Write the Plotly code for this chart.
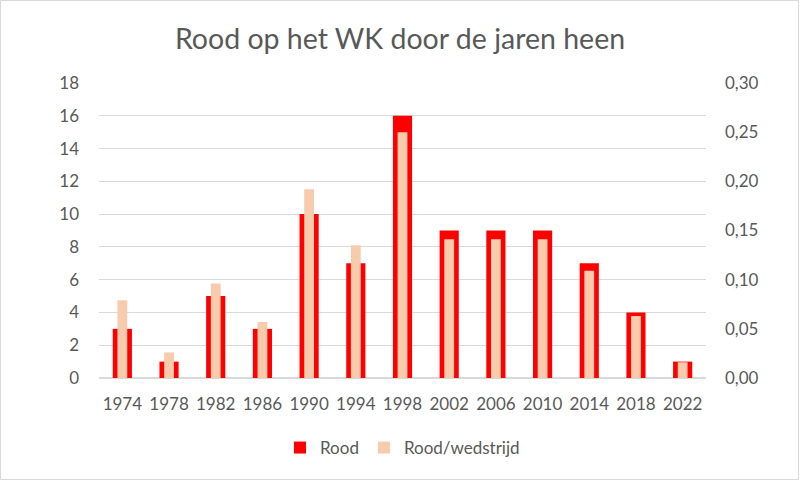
import plotly.graph_objects as go

# WK-jaren en rode kaarten
jaren = ['1974', '1978', '1982', '1986', '1990', '1994', '1998',
         '2002', '2006', '2010', '2014', '2018', '2022']
rood = [3, 1, 5, 3, 10, 7, 16, 9, 9, 9, 7, 4, 1]
rood_per_wedstrijd = [0.079, 0.026, 0.096, 0.057, 0.192, 0.135, 0.25,
                      0.141, 0.141, 0.141, 0.109, 0.063, 0.016]

left_ticks = list(range(0, 19, 2))
right_ticks = [0, 0.05, 0.10, 0.15, 0.20, 0.25, 0.30]

W, H = 800, 481
margin = dict(l=99, r=94, t=83, b=103)
grid = '#d9d9d9'
txt = '#595959'
font = 'Lato, Open Sans, sans-serif'

fig = go.Figure()
fig.add_trace(go.Bar(
    x=jaren, y=rood, name='Rood',
    marker=dict(color='#ff0000', line=dict(width=0)),
    width=0.41,
))
fig.add_trace(go.Bar(
    x=jaren, y=rood_per_wedstrijd, name='Rood/wedstrijd',
    marker=dict(color='#f8cbad', line=dict(width=0)),
    width=0.21, yaxis='y2',
))

# lichtgrijze rand rond de hele grafiek (zoals in Excel)
pw = W - margin['l'] - margin['r']
ph = H - margin['t'] - margin['b']
fig.add_shape(
    type='rect', xref='paper', yref='paper', layer='below',
    x0=-(margin['l'] - 0.5) / pw, x1=1 + (margin['r'] - 1.5) / pw,
    y0=-(margin['b'] - 1.5) / ph, y1=1 + (margin['t'] - 0.5) / ph,
    line=dict(color='#d9d9d9', width=1),
)

fig.update_layout(
    width=W, height=H,
    margin=margin,
    paper_bgcolor='white', plot_bgcolor='white',
    barmode='overlay',
    separators=', ',
    font=dict(family=font, size=17, color=txt),
    title=dict(
        text='Rood op het WK door de jaren heen',
        x=0.5, xanchor='center', y=1 - 39 / H, yanchor='middle',
        font=dict(size=28.5, color=txt),
    ),
    xaxis=dict(
        type='category', showgrid=False, showline=True, linecolor=grid,
        linewidth=1, ticks='', ticklabelstandoff=11,
    ),
    yaxis=dict(
        range=[0, 18], tickvals=left_ticks, gridcolor=grid, gridwidth=1,
        zeroline=True, zerolinecolor=grid, showline=False,
        ticklabelstandoff=19,
    ),
    yaxis2=dict(
        range=[0, 0.30], tickvals=right_ticks, tickformat='.2f',
        overlaying='y', side='right', showgrid=False, zeroline=False,
        showline=False, ticklabelstandoff=18,
    ),
    legend=dict(
        orientation='h', x=0.5, xanchor='center', y=-70 / ph, yanchor='middle',
        font=dict(size=17, color=txt), itemwidth=30,
    ),
    showlegend=True,
)

# body-marge van de browser weghalen zodat de grafiek precies in het venster past
fig.write_html(
    'out.html',
    config=dict(displayModeBar=False),
    post_script="document.body.style.margin='0';",
)
